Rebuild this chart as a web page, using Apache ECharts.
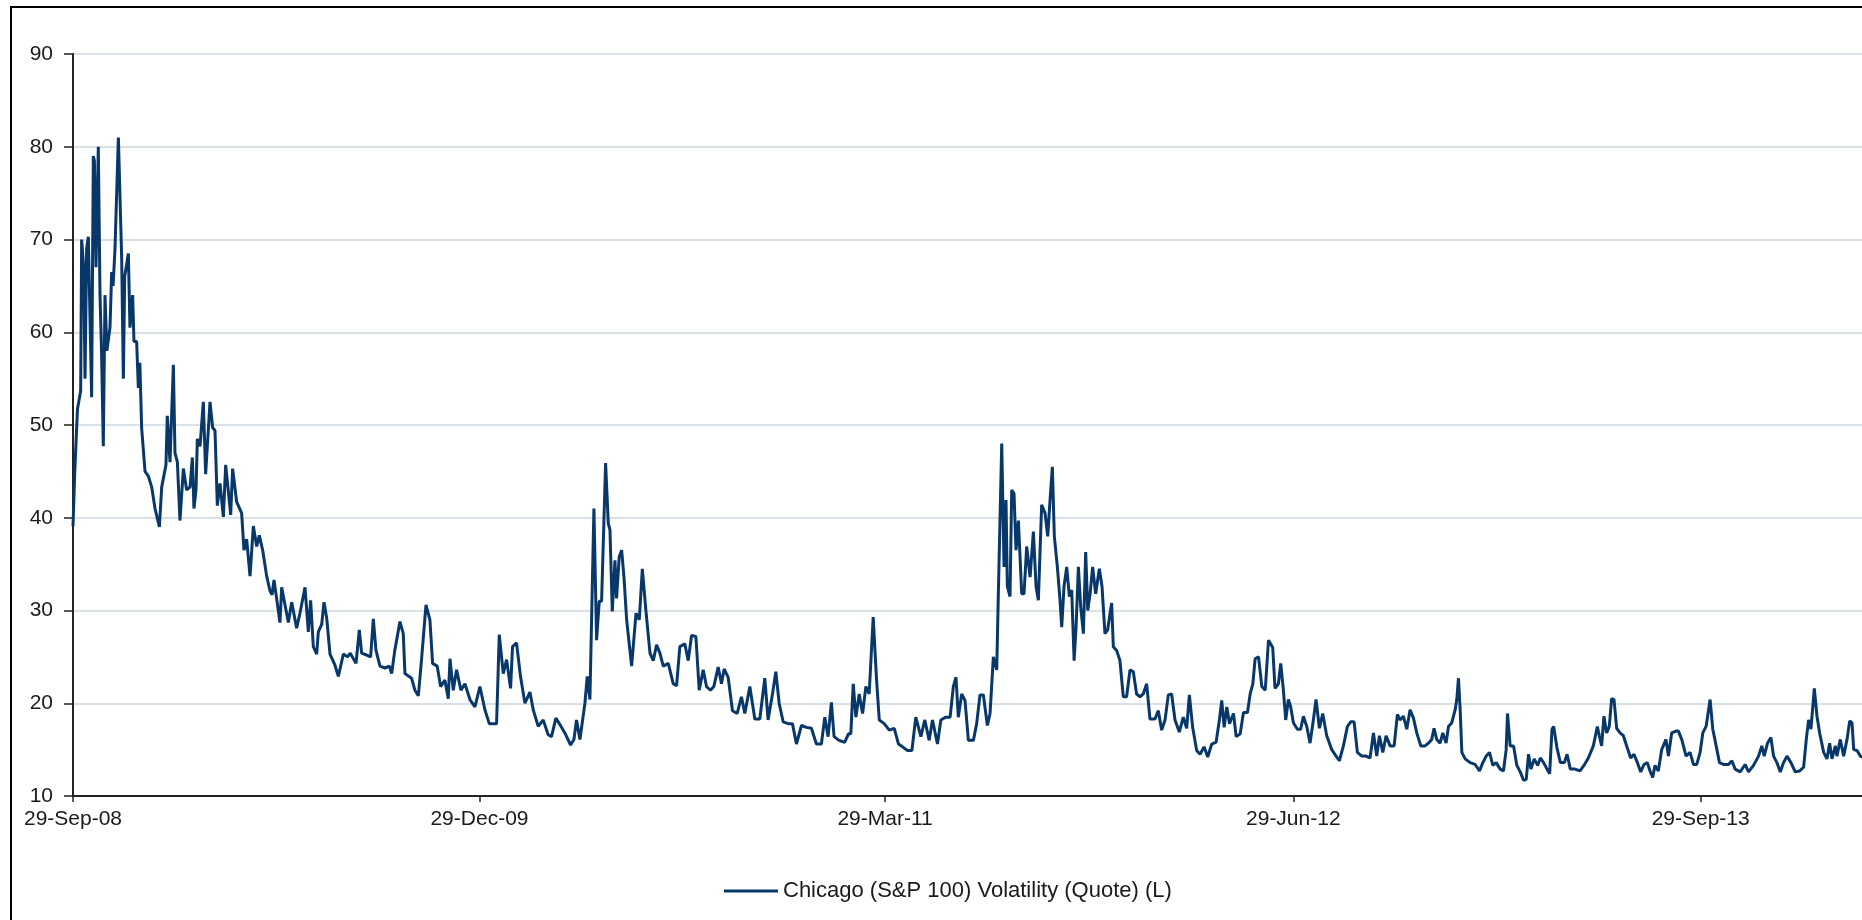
<!DOCTYPE html>
<html>
<head>
<meta charset="utf-8">
<script src="https://cdn.jsdelivr.net/npm/echarts@6/dist/echarts.min.js"></script>
<style>
  html, body { margin: 0; padding: 0; background: #fff; }
  #chart { width: 1862px; height: 920px; }
</style>
</head>
<body>
<div id="chart"></div>
<script>
// x positions: days since 29-Sep-2008
const seriesName = 'Chicago (S&P 100) Volatility (Quote) (L)';
const dayOffsets = [
  0,2,5,8.6,9.7,12,13.5,15.3,17.2,20.9,22.8,24,25.8,28.4,30.3,32,34,35.9,38,41.5,43.4,45,47.1,50.9,54.6,56.5,58,62.1,63.9,66.9,68.4,71.4,73.3,75,77,80.8,84.5,88.3,92,96.9,99.5,104.3,105.8,108.8,112.6,114.4,117.1,120,123.8,127.5,131.3,133.9,135.7,138,139.5,142.5,146.2,148.8,153.7,156.7,159.3,161.9,164.9,168.7,171.3,176.9,179.1,183.6,189.2,191.8,194.8,198.6,202.3,206.1,209,212.8,217.3,221,223.3,225.5,232.2,234.1,241.6,245.3,250.9,254.6,260.3,264,266.6,269.6,273.4,275.2,279,281.6,284.6,288.3,293.9,297.7,303.3,308,
  311,317.5,321.2,323.8,329.4,333.9,336.9,339.9,344.4,350,354.9,357.5,361,366.8,370.5,372.4,379.8,383.6,387.4,391,396,400.4,403.4,408.6,412.4,417.2,421,422.9,426.6,430.3,435.2,439.7,445.3,450.9,456.5,462.1,467,475.2,478.2,482.7,486.4,490.9,493.1,497.6,502,507,512.6,516.3,521.9,527.5,533.1,536.8,541.7,546.2,551.8,558.2,562,564.9,568.7,574.3,576.9,579.9,584.4,587.4,590.4,593,597.5,600.5,602.4,605,608,609.8,612.8,615.5,618.1,621.1,626.7,631.6,635.3,638.7,642.8,647.3,
  651,654.7,658.4,662.2,667.8,673.4,677.1,680.8,686.4,690.2,693.9,698.8,702.5,707,710.7,715.2,718.9,723.8,727.5,730.5,735,739.8,745.1,749.9,753.7,759.3,764.9,770.5,776.1,779.8,784.7,788.5,792.2,796.7,802.3,807.1,811.6,817.2,822.8,828.4,834,839.6,843.4,847.1,850.8,853.8,859.4,865.8,870,872.6,875.3,878.3,882,885.8,889.5,893.2,897.7,901.5,904.5,910.1,915.7,921.3,926.1,930.6,936.2,941.1,945.5,951.2,955.6,960.5,964.2,969.8,973.6,979.2,
  984,987.6,990.6,993.2,997,1000.7,1004.5,1010.1,1013.8,1017.5,1021.3,1025.8,1028.8,1032.5,1036.3,1038.1,1040,1041.9,1044.5,1046.7,1048.2,1051.2,1053.1,1055.7,1057.9,1060.6,1064.3,1066.9,1069.9,1073.7,1077.4,1080.4,1083,1086.7,1090.5,1093.5,1096.1,1098.7,1100.9,1104.3,1107.3,1109.2,1111.8,1114.8,1117.8,1120.4,1123.1,1125.3,1127.9,1130.5,1133.5,1136.1,1138.4,1141,1143.9,1147.3,1151.4,1154.4,1157.7,1160.7,1165.2,1167.1,1170.8,1174.5,1178.3,1182,1185.8,1189.5,1193.2,1197,1200.7,1204.5,1208.2,1213.8,1217.6,1221.3,1225.1,1228.8,1232.5,1236.3,1241.1,1245.6,1249.4,1252.4,1256.1,1260.6,1264.4,1268.9,1273,1277.5,1282.4,1286.1,1288.7,1291.4,1294.4,1297.4,1301.9,1304.9,1309.4,1313.1,1317.6,1320.6,1323.6,1326.2,1330,1333.7,1337.5,1341.2,
  1342.9,1345.9,1348.5,1352.3,1354.9,1357.9,1360.5,1363.5,1366.1,1369.1,1373.6,1377.3,1380.3,1384.1,1387.8,1391.5,1394.5,1398.3,1402,1406.5,1412.1,1417,1420.7,1425.2,1429.7,1433.4,1437.2,1440.9,1445.8,1450.6,1455.1,1458.9,1462.6,1465.6,1469.4,1473.1,1477.6,1482.1,1485.8,1488.8,1492.5,1496.3,1500,1503.8,1507.5,1512,1516.8,1520.6,1524.3,1526.9,1529.9,1533.7,1536.7,1540.4,1543.1,1546.8,1550.6,1552.4,1554.3,1556.2,1558.1,1561.8,1567.4,1573,1577.9,1581.6,1585.4,1589.1,1592.9,1596.6,1601.1,1604.8,1607.8,1609.3,1612.3,1616.1,1619.8,1623.6,1627.3,1630.3,1632.9,1635.6,1639.3,1643.1,1646.1,1649.8,1653.6,1656.6,1659.2,1661.1,1663,1664.8,1668.6,1673.1,1676.1,1679.8,
  1685,1690.6,1695.1,1700,1705.6,1710.1,1712.3,1714.9,1717.5,1720.5,1723.5,1726.1,1728.8,1731.8,1735.5,1739.3,1743,1747.5,1751.2,1755,1758.7,1762.5,1766.2,1769.2,1772.2,1774.8,1778.5,1782.3,1787.1,1789.8,1793.5,1798.4,1801,1804.8,1809.6,1814.1,1817.9,1821.6,1825.4,1828.4,1832.1,1836.6,1839.6,1843.4,1847.1,1851.6,1857.2,1861,1864.7,1870.3,1875.9,1879.7,1885.3,1890.9,1894.6,1897.3,1901,1904.8,1907.8,1911.5,1915.3,1919,1922.8,1927.3,1932.1,1937,1941.5,1944.5,1947.1,1949.7,1953.5,1956.5,1959.5,1964,1967.7,1970.7,1973.3,1977.1,1978.9,1982.7,1986.4,1990.2,1993.2,1995.8,1997.7,2001.4,2005.2,2007.4
];
const values = [
  39.1,45,51.7,53.7,70,67,55,69,70.3,53,79,78.5,67,80,64,58,47.7,64,58,60.5,66.5,65,69,81,68,55,66,68.5,60.5,64,59,59,54,56.7,49.7,45,44.5,43.3,41,39,43.3,45.7,51,46,56.5,47,46,39.7,45.3,43,43.3,46.5,41,43,48.5,47.7,52.5,44.7,52.5,49.7,49.4,41.3,43.7,40.1,45.7,40.3,45.3,41.7,40.5,36.5,37.7,33.7,39.1,36.9,38.1,36.5,33.7,32.1,31.7,33.3,28.7,32.5,28.7,30.9,28.1,29.7,32.5,27.7,31.1,26.1,25.3,27.7,28.5,30.9,29.2,25.3,24.1,22.9,25.3,25,
  25.4,24.3,27.9,25.4,25.2,25,29.1,25.7,24,23.8,24,23.2,25.7,28.8,27.5,23.2,22.7,21.4,20.8,24.7,30.6,29,24.3,24,21.8,22.5,20.5,24.8,21.4,23.6,21.4,22.1,20.4,19.6,21.8,19.3,17.8,17.8,27.4,23.2,24.7,21.6,26.1,26.5,22.9,20,21.2,19.3,17.5,18.2,16.6,16.4,18.4,17.7,16.8,15.5,16.1,18.2,16.1,20,22.9,20.4,41,26.8,31,31,45.9,39.4,38.7,29.9,35.4,31.3,35.8,36.5,33.6,29,24,29.7,29,34.5,29.9,25.4,
  24.6,26.3,25.4,24,24.3,22.1,21.9,26.1,26.4,24.6,27.3,27.2,21.4,23.6,21.8,21.4,21.8,23.9,22.1,23.7,22.8,19.2,18.9,20.7,18.9,21.8,18.3,18.3,22.7,18.2,21,23.4,20,18,17.8,17.8,15.6,17.6,17.4,17.3,15.6,15.6,18.5,16.4,20.1,16.4,16,15.8,16.7,16.7,22.1,18.5,21,18.9,21.8,21,29.3,22.5,18.2,17.8,17.1,17.3,15.6,15.3,14.9,14.9,18.5,16.4,18.2,16,18.2,15.6,18.2,18.5,
  18.5,21.8,22.8,18.5,21,20.3,16,16,17.8,20.9,20.9,17.6,18.9,25,23.6,31.8,31.8,48,34.7,41.9,32.6,31.5,43,42.6,36.5,39.7,31.8,31.8,36.9,33.6,38.5,32.6,31.1,41.4,40.5,38,41.9,45.5,38,34.7,31.1,28.2,32.6,34.7,31.5,32.2,24.6,28.2,34.7,30.4,27.5,36.3,30,31.8,34.7,31.8,34.5,32.6,27.5,27.9,30.8,26.1,25.7,24.6,20.7,20.7,23.6,23.4,21,20.7,21,22.1,18.3,18.3,19.2,17.1,18.2,20.9,21,18.2,16.9,18.5,17.3,20.9,17.4,14.9,14.5,15.3,14.2,15.6,15.8,18.2,20.3,17.4,19.6,17.8,18.9,16.4,16.7,19,19,21,22.1,24.8,25,21.8,21.4,26.8,
  26.7,26,21.6,22.1,24.3,21.4,18.2,20.4,19.6,17.9,17.2,17.2,18.6,17.5,15.7,18.2,20.4,17.3,18.9,16.5,15,14.3,13.8,15.4,17.5,18,18,14.7,14.3,14.3,14.1,16.8,14.3,16.5,14.7,16.5,15.4,15.4,18.8,18.2,18.6,17.2,19.3,18.4,16.8,15.4,15.4,15.7,16.1,17.3,16.1,15.7,16.8,15.7,17.5,17.9,19.3,20.4,22.7,19.3,14.7,14,13.6,13.4,12.7,13.6,14.3,14.7,13.3,13.6,12.9,12.7,15,18.9,15.4,15.4,13.3,12.6,11.7,11.8,14.5,12.9,14,13.3,14.1,13.6,12.9,12.4,17.2,17.5,17.7,15.2,13.6,13.6,14.5,12.9,
  12.9,12.7,13.3,14.1,15.4,17.5,16.5,15.4,18.6,16.8,17.5,20.5,20.4,17.3,16.8,16.5,15.4,14.1,14.5,13.6,12.6,13.4,13.6,12.7,12,13.3,12.7,15,16.1,14.3,16.8,17,17,16.1,14.3,14.7,13.4,13.4,14.7,16.8,17.5,20.4,17.2,15.4,13.6,13.4,13.4,13.8,12.9,12.6,13.4,12.6,13.3,14.3,15.4,14.3,15.7,16.3,14.3,13.6,12.6,13.6,14.3,13.6,12.6,12.7,13.1,16.1,18.2,17.2,21.6,18.6,16.8,14.7,14,15.7,14,15.4,14.3,16.1,14.3,16.1,18.1,17.9,15,14.9,14.3,14.2
];
const xTickDays = [0, 456, 911, 1369, 1826];
const xTickLabels = ['29-Sep-08', '29-Dec-09', '29-Mar-11', '29-Jun-12', '29-Sep-13'];
const yMin = 10, yMax = 90, yStep = 10;
const xMaxDay = 2007;

const FONT = "'Liberation Sans', Arial, sans-serif";
const LINE_COLOR = '#08386a';
const chart = echarts.init(document.getElementById('chart'), null, { renderer: 'canvas' });
chart.setOption({
  animation: false,
  backgroundColor: '#ffffff',
  textStyle: { fontFamily: FONT },
  grid: { left: 73, right: 0, top: 54, bottom: 124, containLabel: false },
  legend: {
    left: 719, top: 875,
    itemWidth: 54, itemHeight: 3, itemGap: 10,
    textStyle: { fontFamily: FONT, fontSize: 22, color: '#1a1a1a', padding: [0, 0, 0, 0] },
    data: [{ name: seriesName, icon: 'rect', itemStyle: { color: LINE_COLOR } }]
  },
  xAxis: {
    type: 'value', min: 0, max: xMaxDay,
    axisLine: { show: true, lineStyle: { color: '#222', width: 2 } },
    axisTick: { show: true, customValues: xTickDays, length: 6, lineStyle: { color: '#222', width: 1.5 } },
    axisLabel: {
      customValues: xTickDays, margin: 13, fontSize: 21, color: '#1a1a1a', fontFamily: FONT,
      formatter: function (v) { const i = xTickDays.indexOf(v); return i >= 0 ? xTickLabels[i] : ''; }
    },
    splitLine: { show: false }
  },
  yAxis: {
    type: 'value', min: yMin, max: yMax, interval: yStep,
    axisLine: { show: true, lineStyle: { color: '#222', width: 2 } },
    axisTick: { show: true, length: 9, lineStyle: { color: '#222', width: 1.5 } },
    axisLabel: { margin: 20, fontSize: 21, color: '#1a1a1a', fontFamily: FONT },
    splitLine: { show: true, lineStyle: { color: '#cbd8e1', width: 1.5 } }
  },
  series: [{
    name: seriesName,
    type: 'line',
    symbol: 'none',
    clip: true,
    lineStyle: { color: LINE_COLOR, width: 3 },
    itemStyle: { color: LINE_COLOR },
    data: dayOffsets.map((d, i) => [d, values[i]])
  }],
  graphic: [{
    type: 'rect', z: 100, silent: true,
    shape: { x: 11, y: 7, width: 1900, height: 1000 },
    style: { fill: 'none', stroke: '#000', lineWidth: 2 }
  }]
});
</script>
</body>
</html>
